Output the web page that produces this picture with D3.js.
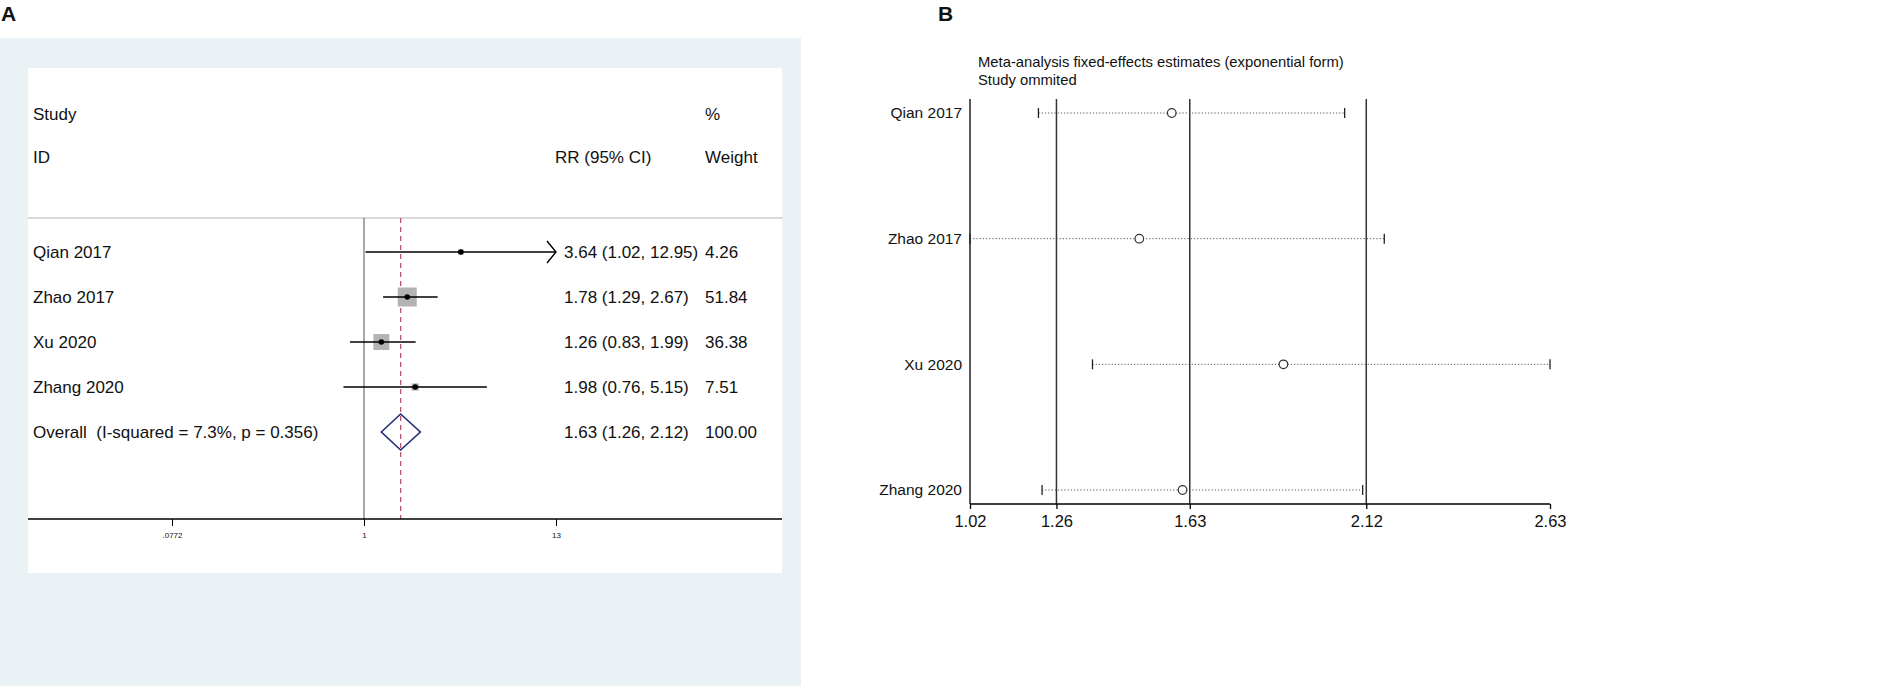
<!DOCTYPE html>
<html>
<head>
<meta charset="utf-8">
<script src="https://cdn.jsdelivr.net/npm/d3@7"></script>
<style>
  html, body { margin: 0; padding: 0; background: #fff; }
  svg { display: block; }
  text { font-family: "Liberation Sans", Arial, Helvetica, sans-serif; fill: #111; white-space: pre; }
</style>
</head>
<body>
<svg id="chart" width="1904" height="696"></svg>
<script>
// ---------- Panel A data (forest plot) ----------
const studies = ["Qian 2017", "Zhao 2017", "Xu 2020", "Zhang 2020"];
const rr      = [3.64, 1.78, 1.26, 1.98];
const rrLow   = [1.02, 1.29, 0.83, 0.76];
const rrHigh  = [12.95, 2.67, 1.99, 5.15];
const weights = [4.26, 51.84, 36.38, 7.51];
const overallLabel = "Overall  (I-squared = 7.3%, p = 0.356)";
const overall = [1.63, 1.26, 2.12];   // estimate, low, high
const overallWeight = "100.00";
const ticksA = [0.0772, 1, 12.95];
const tickLabelsA = [".0772", "1", "13"];

// ---------- Panel B data (leave-one-out) ----------
const omitted  = ["Qian 2017", "Zhao 2017", "Xu 2020", "Zhang 2020"];
const estB     = [1.58, 1.49, 1.89, 1.61];
const lowB     = [1.21, 1.02, 1.36, 1.22];
const highB    = [2.06, 2.17, 2.63, 2.11];
const ticksB   = [1.02, 1.26, 1.63, 2.12, 2.63];
const refLinesB = [1.26, 1.63, 2.12];
const titleB   = ["Meta-analysis fixed-effects estimates (exponential form)", "Study ommited"];

const svg = d3.select("#chart");
const fmt2 = d3.format(".2f");

// ================= PANEL A =================
const A = svg.append("g");
A.append("text").attr("x", 1).attr("y", 21).text("A")
  .style("font-size", "21px").style("font-weight", "bold");

A.append("rect").attr("x", 0).attr("y", 38).attr("width", 801).attr("height", 648).attr("fill", "#eaf2f6");
A.append("rect").attr("x", 28).attr("y", 68).attr("width", 754).attr("height", 505).attr("fill", "#ffffff");

const xA = d3.scaleLog().domain([ticksA[0], ticksA[2]]).range([172, 556]);
const rowsA = studies.concat([overallLabel]);
const yA = d3.scalePoint().domain(rowsA).range([252, 432]);
const sideScale = d3.scaleSqrt().domain([0, 51.84]).range([0, 19]);

const topA = 218, axisYA = 519;

const fsA = "17px";
function txtA(x, y, s, anchor) {
  return A.append("text").attr("x", x).attr("y", y).attr("dy", "0.35em")
    .attr("xml:space", "preserve")
    .attr("text-anchor", anchor || "start").style("font-size", fsA).text(s);
}
txtA(33, 114, "Study");
txtA(33, 157, "ID");
txtA(705, 114, "%");
txtA(555, 157, "RR (95% CI)");
txtA(705, 157, "Weight");

// separator
A.append("line").attr("x1", 28).attr("x2", 782).attr("y1", topA).attr("y2", topA)
  .attr("stroke", "#d9d9d9").attr("stroke-width", 2);

// null line and overall dashed line
A.append("line").attr("x1", xA(1)).attr("x2", xA(1)).attr("y1", topA).attr("y2", axisYA)
  .attr("stroke", "#555").attr("stroke-width", 1);
A.append("line").attr("x1", xA(overall[0])).attr("x2", xA(overall[0])).attr("y1", topA).attr("y2", axisYA)
  .attr("stroke", "#b5566a").attr("stroke-width", 1.3).attr("stroke-dasharray", "5,4");

// studies
studies.forEach((s, i) => {
  const y = yA(s);
  const side = sideScale(weights[i]);
  A.append("rect").attr("x", xA(rr[i]) - side / 2).attr("y", y - side / 2)
    .attr("width", side).attr("height", side).attr("fill", "#b3b3b3");
  const hi = Math.min(rrHigh[i], ticksA[2]);
  A.append("line").attr("x1", xA(rrLow[i])).attr("x2", xA(hi)).attr("y1", y).attr("y2", y)
    .attr("stroke", "#000").attr("stroke-width", 1.6);
  if (rrHigh[i] >= ticksA[2] - 1e-9) {
    const xe = xA(hi);
    A.append("path").attr("d", `M${xe - 9},${y - 11} L${xe},${y} L${xe - 9},${y + 11}`)
      .attr("fill", "none").attr("stroke", "#000").attr("stroke-width", 1.4);
  }
  A.append("circle").attr("cx", xA(rr[i])).attr("cy", y).attr("r", 2.8).attr("fill", "#000");
  txtA(33, y, s);
  txtA(564, y, `${fmt2(rr[i])} (${fmt2(rrLow[i])}, ${fmt2(rrHigh[i])})`);
  txtA(705, y, fmt2(weights[i]));
});

// overall
{
  const y = yA(overallLabel);
  A.append("path")
    .attr("d", `M${xA(overall[1])},${y} L${xA(overall[0])},${y - 18} L${xA(overall[2])},${y} L${xA(overall[0])},${y + 18} Z`)
    .attr("fill", "none").attr("stroke", "#232a78").attr("stroke-width", 1.6);
  txtA(33, y, overallLabel);
  txtA(564, y, `${fmt2(overall[0])} (${fmt2(overall[1])}, ${fmt2(overall[2])})`);
  txtA(705, y, overallWeight);
}

// x axis A
A.append("line").attr("x1", 28).attr("x2", 782).attr("y1", axisYA).attr("y2", axisYA)
  .attr("stroke", "#000").attr("stroke-width", 1.3);
const axA = d3.axisBottom(xA).tickValues(ticksA).tickSize(7)
  .tickFormat((d, i) => tickLabelsA[i]);
const gAxA = A.append("g").attr("transform", `translate(0,${axisYA})`).call(axA);
gAxA.select(".domain").remove();
gAxA.selectAll("line").attr("stroke", "#000");
gAxA.selectAll("text").style("font-size", "8px").attr("fill", "#111").attr("dy", "1.1em")
  .style("font-family", "'Liberation Sans', Arial, sans-serif");

// ================= PANEL B =================
const B = svg.append("g");
B.append("text").attr("x", 938).attr("y", 21).text("B")
  .style("font-size", "21px").style("font-weight", "bold");

const xB = d3.scaleLinear().domain([ticksB[0], ticksB[ticksB.length - 1]]).range([970, 1550]);
const yB = d3.scalePoint().domain(omitted).range([113, 490]);
const topB = 99, axisYB = 504;

titleB.forEach((t, i) => {
  B.append("text").attr("x", 978).attr("y", 62 + i * 18).attr("dy", "0.35em")
    .style("font-size", "14.8px").text(t);
});

// reference lines
refLinesB.forEach(v => {
  B.append("line").attr("x1", xB(v)).attr("x2", xB(v)).attr("y1", topB).attr("y2", axisYB)
    .attr("stroke", "#333").attr("stroke-width", 1.5);
});
// y axis line
B.append("line").attr("x1", xB(ticksB[0])).attr("x2", xB(ticksB[0])).attr("y1", topB).attr("y2", axisYB)
  .attr("stroke", "#222").attr("stroke-width", 1.5);

omitted.forEach((s, i) => {
  const y = yB(s);
  B.append("line").attr("x1", xB(lowB[i])).attr("x2", xB(highB[i])).attr("y1", y).attr("y2", y)
    .attr("stroke", "#555").attr("stroke-width", 1).attr("stroke-dasharray", "1.2,2");
  [lowB[i], highB[i]].forEach(v => {
    B.append("line").attr("x1", xB(v)).attr("x2", xB(v)).attr("y1", y - 5).attr("y2", y + 5)
      .attr("stroke", "#222").attr("stroke-width", 1.3);
  });
  B.append("circle").attr("cx", xB(estB[i])).attr("cy", y).attr("r", 4.3)
    .attr("fill", "#fff").attr("stroke", "#333").attr("stroke-width", 1.2);
  B.append("text").attr("x", 962).attr("y", y).attr("dy", "0.35em").attr("text-anchor", "end")
    .style("font-size", "15.5px").text(s);
});

// x axis B
const axB = d3.axisBottom(xB).tickValues(ticksB).tickSize(5).tickFormat(d3.format(".2f"));
const gAxB = B.append("g").attr("transform", `translate(0,${axisYB})`).call(axB);
gAxB.select(".domain").attr("stroke", "#000").attr("stroke-width", 1.5).attr("d", `M${xB(ticksB[0])},0H${xB(ticksB[4])}`);
gAxB.selectAll(".tick line").attr("stroke", "#000").attr("stroke-width", 1.3);
gAxB.selectAll("text").style("font-size", "16.5px").attr("fill", "#111").attr("dy", "0.9em")
  .style("font-family", "'Liberation Sans', Arial, sans-serif");
</script>
</body>
</html>
